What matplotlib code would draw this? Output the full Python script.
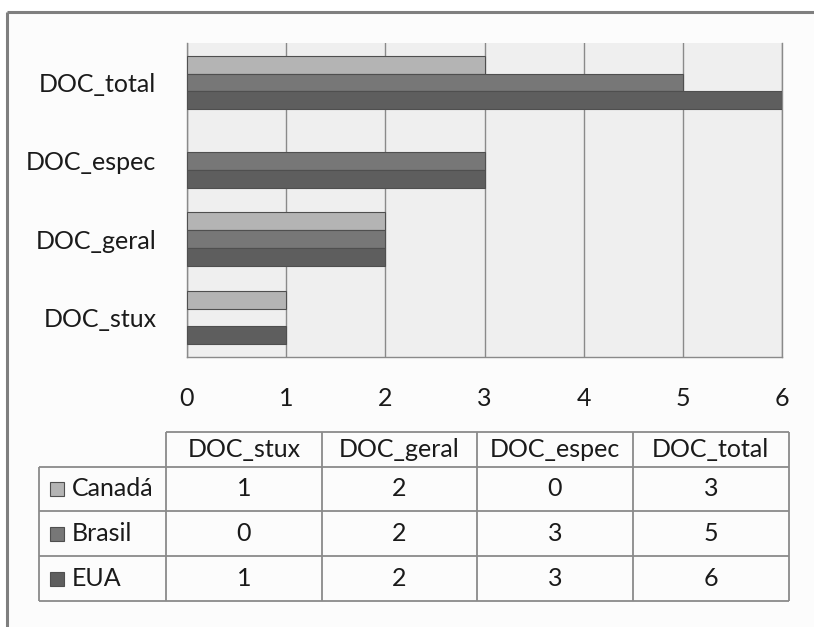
import matplotlib
matplotlib.use("Agg")
import matplotlib.pyplot as plt
from matplotlib.patches import Rectangle
import numpy as np

plt.rcParams['font.family'] = ['Lato', 'DejaVu Sans']

# Data
categories = ["DOC_stux", "DOC_geral", "DOC_espec", "DOC_total"]
series_names = ["Canadá", "Brasil", "EUA"]
canada = [1, 2, 0, 3]
brasil = [0, 2, 3, 5]
eua = [1, 2, 3, 6]
x_ticks = [0, 1, 2, 3, 4, 5, 6]

series_values = [canada, brasil, eua]
series_colors = ["#b4b4b4", "#777777", "#5e5e5e"]
edge_color = "#4f4f4f"
grid_color = "#8a8a8a"
text_color = "#1a1a1a"
FS = 18

W, H = 814, 627
fig = plt.figure(figsize=(W / 100, H / 100), dpi=100, facecolor="white")

# Overlay in pixel coordinates for the frame and the data table
ov = fig.add_axes([0, 0, 1, 1], zorder=0)
ov.set_xlim(0, W)
ov.set_ylim(H, 0)
ov.axis("off")
ov.add_patch(Rectangle((7, 12), W, H, facecolor="#fcfcfc", edgecolor="none"))
ov.plot([7, W], [12, 12], color="#7f7f7f", lw=2.2, solid_capstyle="butt")
ov.plot([7, 7], [12, H], color="#7f7f7f", lw=2.2, solid_capstyle="butt")

# Bar chart
left, right, top, bottom = 187, 782, 43.3, 356.7
ax = fig.add_axes([left / W, 1 - bottom / H, (right - left) / W, (bottom - top) / H], zorder=1)
ax.set_facecolor("#efefef")
bh = 0.227
y = np.arange(len(categories))
offsets = [bh, 0, -bh]
for vals, col, off in zip(series_values, series_colors, offsets):
    widths = [0.8 if v > 0 else 0 for v in vals]
    ax.barh(y + off, vals, height=bh, color=col, edgecolor=edge_color,
            linewidth=widths, zorder=3)

ax.set_xlim(0, 6)
ax.set_ylim(-0.5, len(categories) - 0.5)
ax.set_xticks(x_ticks)
ax.set_xticklabels([str(t) for t in x_ticks], fontsize=FS, color=text_color)
ax.set_yticks(y)
ax.set_yticklabels(categories, fontsize=FS, color=text_color)
ax.tick_params(axis="x", length=0, pad=22)
ax.tick_params(axis="y", length=0, pad=22)
ax.grid(axis="x", color=grid_color, linewidth=1.0, zorder=1)
ax.grid(axis="y", visible=False)
for s in ["left", "bottom", "right"]:
    ax.spines[s].set_color(grid_color)
    ax.spines[s].set_linewidth(1.0)
ax.spines["top"].set_visible(False)

# Data table below the chart
col_x = [39, 165.7, 322, 477, 633, 788.7]
row_y = [431.7, 466.5, 511, 556, 601]
line_kw = dict(color="#8a8a8a", lw=1.3, solid_capstyle="butt")
ov.plot([col_x[1], col_x[-1]], [row_y[0], row_y[0]], **line_kw)
for yy in row_y[1:]:
    ov.plot([col_x[0], col_x[-1]], [yy, yy], **line_kw)
ov.plot([col_x[0], col_x[0]], [row_y[1], row_y[-1]], **line_kw)
for xx in col_x[1:]:
    ov.plot([xx, xx], [row_y[0], row_y[-1]], **line_kw)

for j, cat in enumerate(categories):
    cx = (col_x[j + 1] + col_x[j + 2]) / 2
    ov.text(cx, (row_y[0] + row_y[1]) / 2, cat, ha="center", va="center",
            fontsize=FS, color=text_color)
for i, (name, vals, col) in enumerate(zip(series_names, series_values, series_colors)):
    cy = (row_y[i + 1] + row_y[i + 2]) / 2
    ov.add_patch(Rectangle((50, cy - 7), 14, 14, facecolor=col, edgecolor=edge_color, lw=0.8))
    ov.text(72, cy, name, ha="left", va="center", fontsize=FS, color=text_color)
    for j, v in enumerate(vals):
        cx = (col_x[j + 1] + col_x[j + 2]) / 2
        ov.text(cx, cy, str(v), ha="center", va="center", fontsize=FS, color=text_color)

fig.savefig("out.png", dpi=100, facecolor="white")
